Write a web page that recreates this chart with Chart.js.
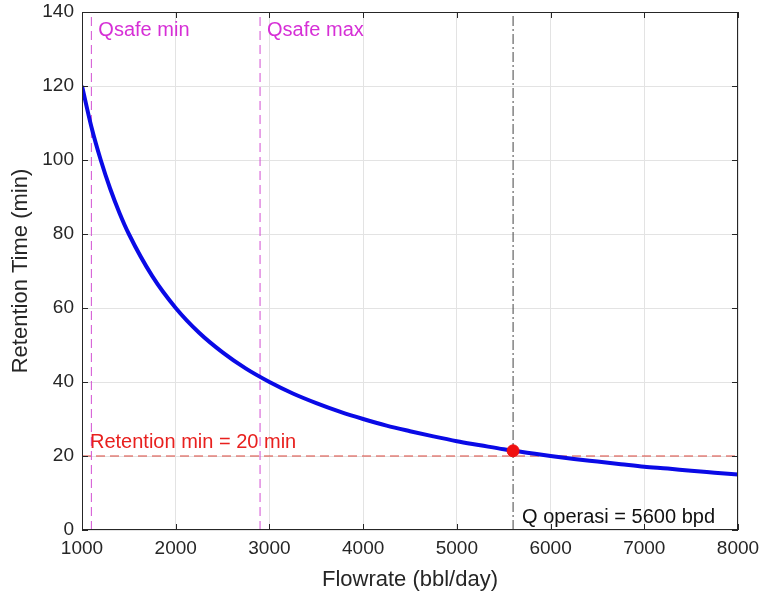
<!DOCTYPE html>
<html>
<head>
<meta charset="utf-8">
<script src="https://cdn.jsdelivr.net/npm/chart.js@4"></script>
<style>
  html, body { margin: 0; padding: 0; background: #fff; }
  #wrap { width: 761px; height: 598px; }
</style>
</head>
<body>
<div id="wrap"><canvas id="grafico"></canvas></div>
<script>
// Dados
const flowrate = [1000, 1100, 1200, 1300, 1400, 1500, 1750, 2000, 2250, 2500, 2750, 3000, 3250, 3500, 3750, 4000, 4250, 4500, 4750, 5000, 5250, 5500, 5750, 6000, 6250, 6500, 6750, 7000, 7250, 7500, 7750, 8000];
const retention = [120, 109, 100, 92.3, 85.7, 80, 68.6, 60, 53.3, 48, 43.6, 40, 36.9, 34.3, 32, 30, 28.2, 26.7, 25.3, 24, 22.9, 21.8, 20.9, 20, 19.2, 18.5, 17.8, 17.1, 16.6, 16, 15.5, 15];
const xTicks = [1000, 2000, 3000, 4000, 5000, 6000, 7000, 8000];
const yTicks = [0, 20, 40, 60, 80, 100, 120, 140];

const qSafeMin = 1100;
const qSafeMax = 2900;
const qOperasi = 5600;
const tOperasi = 21.4;
const retentionMin = 20;

const fonte = '"Liberation Sans", Arial, sans-serif';
const corTexto = '#262626';

// Plugin para textos, caixa e ticks internos (estilo MATLAB)
const extras = {
    id: 'extras',
    afterDatasetsDraw(chart) {
        const c = chart.ctx;
        const a = chart.chartArea;
        const x = chart.scales.x;
        const y = chart.scales.y;
        c.save();
        c.font = '20px ' + fonte;
        c.textBaseline = 'alphabetic';
        c.textAlign = 'left';
        c.fillStyle = '#d62fd6';
        c.fillText('Qsafe min', x.getPixelForValue(qSafeMin) + 7, y.getPixelForValue(133.6));
        c.fillText('Qsafe max', x.getPixelForValue(qSafeMax) + 7, y.getPixelForValue(133.6));
        c.fillStyle = '#e8201e';
        c.fillText('Retention min = 20 min', x.getPixelForValue(1000) + 8, y.getPixelForValue(22.2));
        c.fillStyle = '#111';
        c.fillText('Q operasi = 5600 bpd', x.getPixelForValue(qOperasi) + 9, y.getPixelForValue(1.8));

        // caixa
        c.strokeStyle = corTexto;
        c.lineWidth = 1;
        c.strokeRect(a.left + 0.5, a.top + 0.5, a.right - a.left - 1, a.bottom - a.top - 1);
        // ticks internos
        c.beginPath();
        xTicks.forEach(v => {
            const px = Math.round(x.getPixelForValue(v)) + 0.5;
            c.moveTo(px, a.bottom); c.lineTo(px, a.bottom - 6);
            c.moveTo(px, a.top); c.lineTo(px, a.top + 6);
        });
        yTicks.forEach(v => {
            const py = Math.round(y.getPixelForValue(v)) + 0.5;
            c.moveTo(a.left, py); c.lineTo(a.left + 6, py);
            c.moveTo(a.right, py); c.lineTo(a.right - 6, py);
        });
        c.stroke();
        c.restore();
    }
};

const ctx = document.getElementById('grafico');
new Chart(ctx, {
    type: 'scatter',
    data: {
        datasets: [
            {
                label: 'Retention min',
                data: [{x: 1000, y: retentionMin}, {x: 8000, y: retentionMin}],
                showLine: true,
                borderColor: '#d9443a',
                borderWidth: 1,
                borderDash: [9, 5],
                pointRadius: 0,
                order: 5
            },
            {
                label: 'Qsafe min',
                data: [{x: qSafeMin, y: 0}, {x: qSafeMin, y: 140}],
                showLine: true,
                borderColor: '#d24fd2',
                borderWidth: 1,
                borderDash: [9, 5],
                pointRadius: 0,
                order: 5
            },
            {
                label: 'Qsafe max',
                data: [{x: qSafeMax, y: 0}, {x: qSafeMax, y: 140}],
                showLine: true,
                borderColor: '#d24fd2',
                borderWidth: 1,
                borderDash: [9, 5],
                pointRadius: 0,
                order: 5
            },
            {
                label: 'Q operasi',
                data: [{x: qOperasi, y: 0}, {x: qOperasi, y: 140}],
                showLine: true,
                borderColor: '#444',
                borderWidth: 1,
                borderDash: [10, 3, 2, 3],
                pointRadius: 0,
                order: 4
            },
            {
                label: 'Retention Time',
                data: flowrate.map((q, i) => ({x: q, y: retention[i]})),
                showLine: true,
                borderColor: '#0a0ae6',
                borderWidth: 4,
                cubicInterpolationMode: 'monotone',
                pointRadius: 0,
                order: 2
            },
            {
                label: 'Operasi',
                data: [{x: qOperasi, y: tOperasi}],
                backgroundColor: '#f01010',
                borderColor: '#f01010',
                pointRadius: 6,
                order: 1
            }
        ]
    },
    options: {
        responsive: true,
        maintainAspectRatio: false,
        animation: false,
        layout: { padding: { left: 0, right: 23, top: 12, bottom: 0 } },
        plugins: {
            legend: { display: false },
            tooltip: { enabled: false }
        },
        scales: {
            x: {
                type: 'linear',
                min: 1000,
                max: 8000,
                afterFit: s => { s.height = 68; s.paddingLeft = 0; s.paddingRight = 0; },
                afterBuildTicks: s => { s.ticks = xTicks.map(v => ({value: v})); },
                ticks: { color: corTexto, font: { family: fonte, size: 19 }, padding: 7, maxRotation: 0, callback: v => String(v) },
                grid: { color: '#e3e3e3', drawTicks: false },
                border: { display: false },
                title: { display: true, text: 'Flowrate (bbl/day)', color: corTexto, font: { family: fonte, size: 22 }, padding: { top: 0, bottom: 5 } }
            },
            y: {
                type: 'linear',
                min: 0,
                max: 140,
                afterFit: s => { s.width = 82; s.paddingTop = 0; s.paddingBottom = 0; },
                afterBuildTicks: s => { s.ticks = yTicks.map(v => ({value: v})); },
                ticks: { color: corTexto, font: { family: fonte, size: 19 }, padding: 8, callback: v => String(v) },
                grid: { color: '#e3e3e3', drawTicks: false },
                border: { display: false },
                title: { display: true, text: 'Retention Time (min)', color: corTexto, font: { family: fonte, size: 22 }, padding: { top: 8, bottom: 0 } }
            }
        }
    },
    plugins: [extras]
});
</script>
</body>
</html>
